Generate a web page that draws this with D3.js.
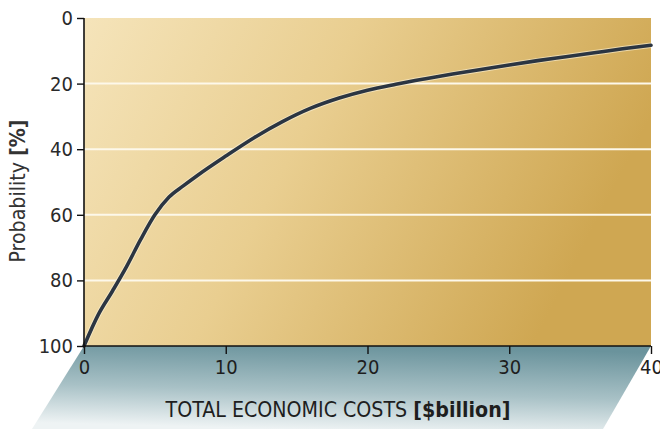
<!DOCTYPE html>
<html><head><meta charset="utf-8">
<script src="https://cdn.jsdelivr.net/npm/d3@7"></script>
<style>body{margin:0;background:#fff;}svg{display:block;}</style>
</head><body>
<svg id="c" width="660" height="429"></svg>
<script>
const costs = [0,1,2,3,4,5,6,7,8,10,12,14,16,18,20,22,24,26,28,30,32,34,36,38,40];
const probability = [100,90.5,83.3,75.8,67.5,60,54.6,51.2,48.0,42.1,36.5,31.6,27.5,24.4,22.0,20.2,18.6,17.1,15.7,14.3,13.0,11.8,10.6,9.4,8.3];
const xTicks = [0,10,20,30,40];
const yTicks = [0,20,40,60,80,100];
const gridValues = [20,40,60,80];
const xTitle = "TOTAL ECONOMIC COSTS ", xTitleBold = "[$billion]";
const yTitle = "Probability ", yTitleBold = "[%]";

const svg = d3.select("#c");
const L = 84, R = 651, T = 18, B = 346;
const x = d3.scaleLinear().domain([0,40]).range([L,R]);
const y = d3.scaleLinear().domain([0,100]).range([T,B]);

const defs = svg.append("defs");
const g1 = defs.append("linearGradient").attr("id","bg").attr("x1","0").attr("y1","0").attr("x2","1").attr("y2","0.3");
g1.append("stop").attr("offset","0").attr("stop-color","#f5e4ba");
g1.append("stop").attr("offset","0.45").attr("stop-color","#e9ce90");
g1.append("stop").attr("offset","1").attr("stop-color","#cfa752");
const g2 = defs.append("linearGradient").attr("id","fl").attr("x1","0.6").attr("y1","0").attr("x2","0.4").attr("y2","1");
g2.append("stop").attr("offset","0").attr("stop-color","#6a939c");
g2.append("stop").attr("offset","0.55").attr("stop-color","#a8c1c6");
g2.append("stop").attr("offset","1").attr("stop-color","#eef3f4");

// floor
const dx = 52, fb = 429;
svg.append("polygon")
  .attr("points", [[L,B],[R,B],[R-dx+4,fb],[L-dx,fb]].map(p=>p.join(",")).join(" "))
  .attr("fill","url(#fl)");

// plot background
svg.append("rect").attr("x",L).attr("y",T).attr("width",R-L).attr("height",B-T).attr("fill","url(#bg)");

// gridlines
svg.append("g").selectAll("line").data(gridValues).join("line")
  .attr("x1",L).attr("x2",R).attr("y1",d=>y(d)).attr("y2",d=>y(d))
  .attr("stroke","#fdf8ea").attr("stroke-width",2);

// curve
const line = d3.line().x((d,i)=>x(costs[i])).y(d=>y(d)).curve(d3.curveMonotoneX);
svg.append("path").datum(probability).attr("d",line).attr("fill","none")
  .attr("stroke","#fbf3dc").attr("stroke-width",5.5).attr("stroke-opacity",0.6);
svg.append("path").datum(probability).attr("d",line).attr("fill","none")
  .attr("stroke","#2b3542").attr("stroke-width",3.6).attr("stroke-linecap","round");

// axes
const fontStack = "'Liberation Sans Narrow','Arial Narrow','DejaVu Sans Condensed',sans-serif";
const yAxis = svg.append("g").attr("transform",`translate(${L},0)`)
  .call(d3.axisLeft(y).tickValues(yTicks).tickSize(7).tickPadding(4).tickFormat(d3.format("d")));
yAxis.select(".domain").attr("stroke","#111").attr("stroke-width",1.6).attr("d",`M0,${T}V${B}`);
yAxis.selectAll(".tick line").attr("stroke","#111").attr("stroke-width",1.4);
yAxis.selectAll(".tick text").attr("font-family",fontStack).attr("font-size",20).attr("fill","#2a2a2a");

const xAxis = svg.append("g").attr("transform",`translate(0,${B})`)
  .call(d3.axisBottom(x).tickValues(xTicks).tickSize(8).tickPadding(6).tickFormat(d3.format("d")));
xAxis.select(".domain").attr("stroke","#111").attr("stroke-width",1.6).attr("d",`M${L},0H${R}`);
xAxis.selectAll(".tick line").attr("stroke","#111").attr("stroke-width",1.4);
xAxis.selectAll(".tick text").attr("font-family",fontStack).attr("font-size",20).attr("fill","#1e1e1e");

// titles
const xt = svg.append("text").attr("x",338).attr("y",417).attr("text-anchor","middle")
  .attr("font-family",fontStack).attr("font-size",21).attr("fill","#1e1e1e")
  .attr("textLength",345).attr("lengthAdjust","spacingAndGlyphs");
xt.append("tspan").text(xTitle);
xt.append("tspan").attr("font-weight","bold").text(xTitleBold);

const yt = svg.append("text").attr("transform","translate(25,191) rotate(-90)").attr("text-anchor","middle")
  .attr("font-family",fontStack).attr("font-size",21).attr("fill","#333")
  .attr("textLength",143).attr("lengthAdjust","spacingAndGlyphs");
yt.append("tspan").text(yTitle);
yt.append("tspan").attr("font-weight","bold").text(yTitleBold);
</script>
</body></html>
